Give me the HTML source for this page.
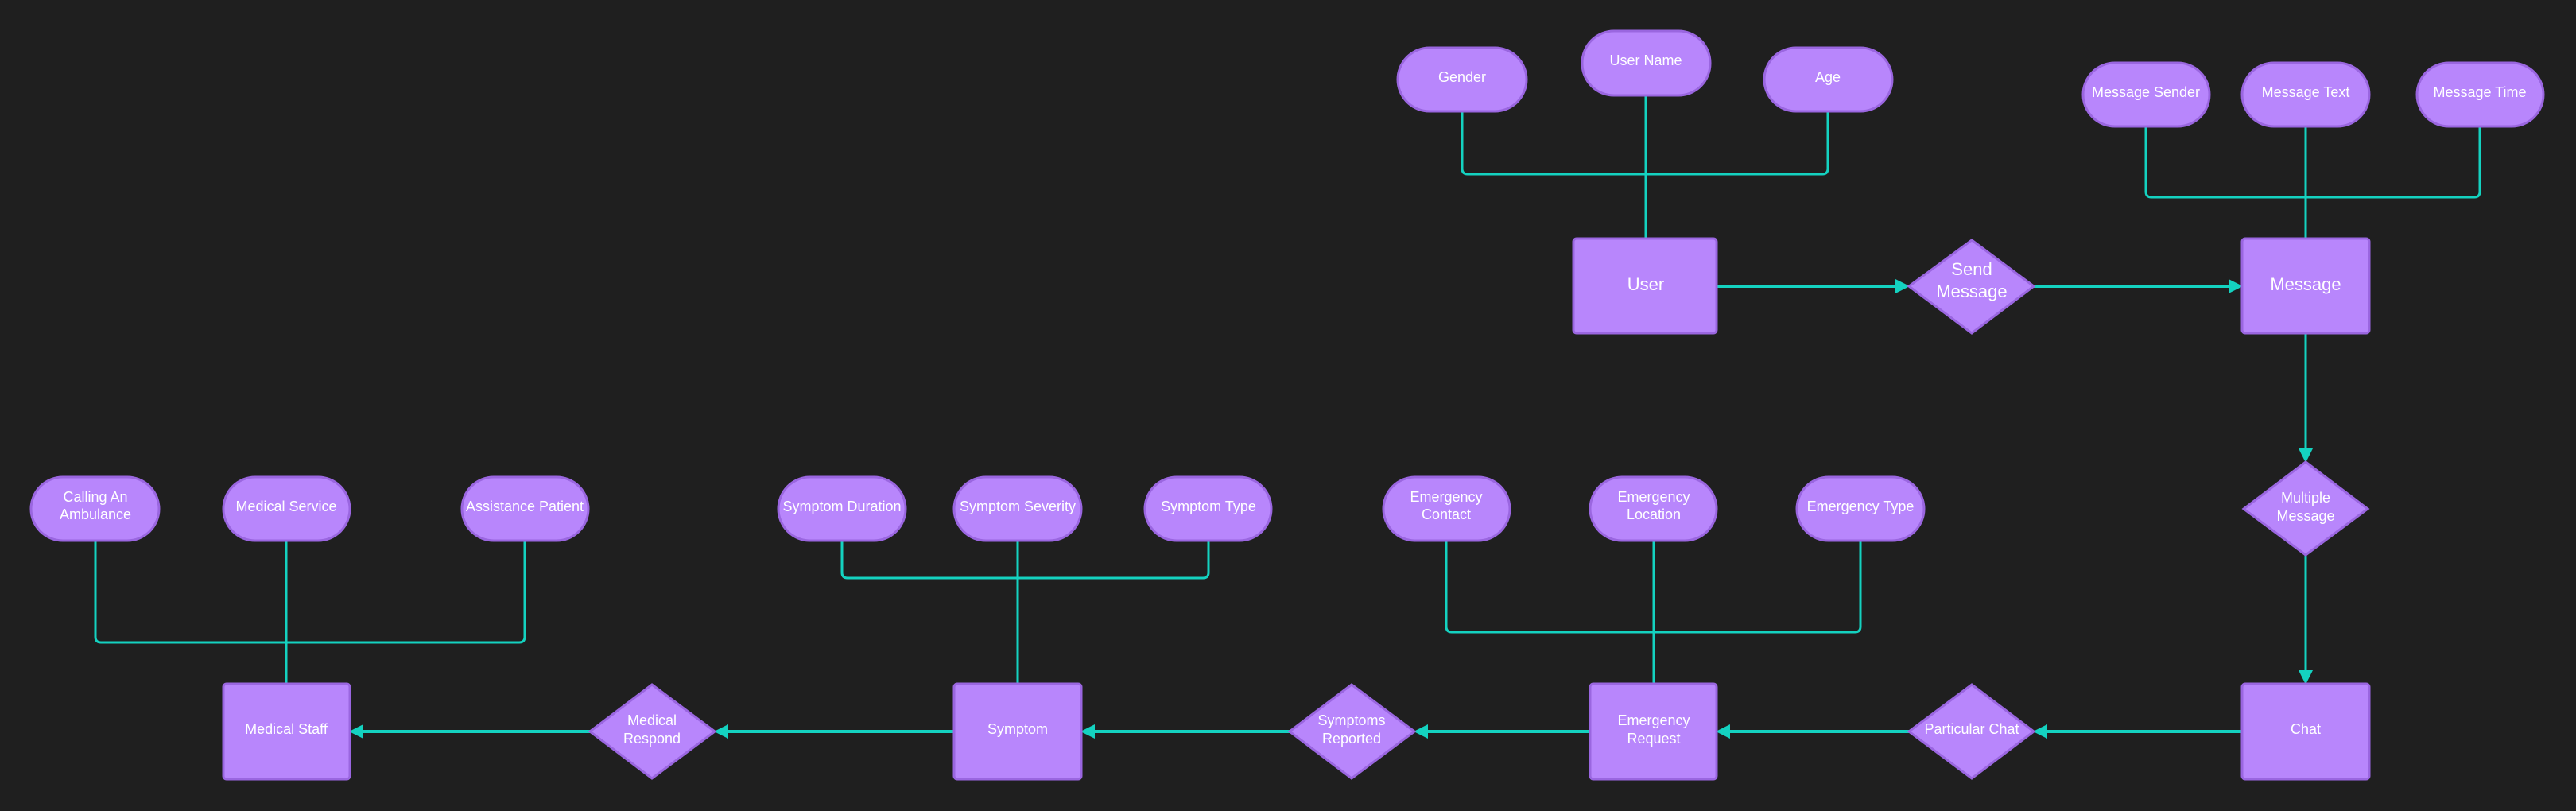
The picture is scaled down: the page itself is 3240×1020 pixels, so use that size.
<!DOCTYPE html>
<html><head><meta charset="utf-8"><style>
html,body{margin:0;padding:0;background:#1f1f1f;}
svg{display:block;}
text{font-family:"Liberation Sans",sans-serif;fill:#fff;text-anchor:middle;dominant-baseline:middle;}
.n{fill:#b886fc;stroke:#9a66e0;stroke-width:3;}
.l{fill:none;stroke:#14d2c0;stroke-width:3;}
.b{fill:none;stroke:#14d2c0;stroke-width:4;}
.a{fill:#14d2c0;}
</style></head><body>
<svg width="3240" height="1020" viewBox="0 0 3240 1020" xmlns="http://www.w3.org/2000/svg">
<rect width="3240" height="1020" fill="#1f1f1f"/>
<!-- connectors top -->
<path class="l" d="M1839 140 V212 Q1839 219 1846 219 H2292 Q2299 219 2299 212 V140"/>
<path class="l" d="M2070 120 V300"/>
<path class="l" d="M2699 159 V241 Q2699 248 2706 248 H3112 Q3119 248 3119 241 V159"/>
<path class="l" d="M2900 159 V300"/>
<!-- bottom attribute connectors -->
<path class="l" d="M1819 680 V788 Q1819 795 1826 795 H2333 Q2340 795 2340 788 V680"/>
<path class="l" d="M2080 680 V860"/>
<path class="l" d="M1059 680 V720 Q1059 727 1066 727 H1513 Q1520 727 1520 720 V680"/>
<path class="l" d="M1280 680 V860"/>
<path class="l" d="M120 680 V801 Q120 808 127 808 H653 Q660 808 660 801 V680"/>
<path class="l" d="M360 680 V860"/>
<!-- flow arrows -->
<path class="b" d="M2159 360 H2386"/><polygon class="a" points="2402,360 2384,351 2384,369"/>
<path class="b" d="M2558 360 H2805"/><polygon class="a" points="2821,360 2803,351 2803,369"/>
<path class="l" d="M2900 419 V566"/><polygon class="a" points="2900,582 2891,564 2909,564"/>
<path class="l" d="M2900 698 V845"/><polygon class="a" points="2900,861 2891,843 2909,843"/>
<path class="b" d="M2820 920 H2573"/><polygon class="a" points="2557,920 2575,911 2575,929"/>
<path class="b" d="M2401 920 H2174"/><polygon class="a" points="2158,920 2176,911 2176,929"/>
<path class="b" d="M2000 920 H1794"/><polygon class="a" points="1778,920 1796,911 1796,929"/>
<path class="b" d="M1622 920 H1375"/><polygon class="a" points="1359,920 1377,911 1377,929"/>
<path class="b" d="M1200 920 H914"/><polygon class="a" points="898,920 916,911 916,929"/>
<path class="b" d="M742 920 H455"/><polygon class="a" points="439,920 457,911 457,929"/>
<!-- pills top -->
<rect class="n" x="1758" y="60" width="162" height="80" rx="40"/><text x="1839" y="98" font-size="18">Gender</text>
<rect class="n" x="1990" y="39" width="161" height="81" rx="40"/><text x="2070" y="77" font-size="18">User Name</text>
<rect class="n" x="2219" y="60" width="161" height="80" rx="40"/><text x="2299" y="98" font-size="18">Age</text>
<rect class="n" x="2620" y="79" width="159" height="80" rx="40"/><text x="2699" y="117" font-size="18">Message Sender</text>
<rect class="n" x="2820" y="79" width="160" height="80" rx="40"/><text x="2900" y="117" font-size="18">Message Text</text>
<rect class="n" x="3040" y="79" width="159" height="80" rx="40"/><text x="3119" y="117" font-size="18">Message Time</text>
<!-- top row nodes -->
<rect class="n" x="1979" y="300" width="180" height="119" rx="4"/><text x="2070" y="359" font-size="22">User</text>
<polygon class="n" points="2480,302 2558,360 2480,419 2401,360"/><text x="2480" y="340" font-size="22">Send</text><text x="2480" y="368" font-size="22">Message</text>
<rect class="n" x="2820" y="300" width="160" height="119" rx="4"/><text x="2900" y="359" font-size="22">Message</text>
<polygon class="n" points="2900,581 2978,640 2900,698 2822,640"/><text x="2900" y="627" font-size="18">Multiple</text><text x="2900" y="650" font-size="18">Message</text>
<!-- bottom attribute pills -->
<rect class="n" x="39" y="600" width="161" height="80" rx="40"/><text x="120" y="626" font-size="18">Calling An</text><text x="120" y="648" font-size="18">Ambulance</text>
<rect class="n" x="281" y="600" width="159" height="80" rx="40"/><text x="360" y="638" font-size="18">Medical Service</text>
<rect class="n" x="581" y="600" width="159" height="80" rx="40"/><text x="660" y="638" font-size="18">Assistance Patient</text>
<rect class="n" x="979" y="600" width="160" height="80" rx="40"/><text x="1059" y="638" font-size="18">Symptom Duration</text>
<rect class="n" x="1200" y="600" width="160" height="80" rx="40"/><text x="1280" y="638" font-size="18">Symptom Severity</text>
<rect class="n" x="1440" y="600" width="159" height="80" rx="40"/><text x="1520" y="638" font-size="18">Symptom Type</text>
<rect class="n" x="1740" y="600" width="159" height="80" rx="40"/><text x="1819" y="626" font-size="18">Emergency</text><text x="1819" y="648" font-size="18">Contact</text>
<rect class="n" x="2000" y="600" width="159" height="80" rx="40"/><text x="2080" y="626" font-size="18">Emergency</text><text x="2080" y="648" font-size="18">Location</text>
<rect class="n" x="2260" y="600" width="160" height="80" rx="40"/><text x="2340" y="638" font-size="18">Emergency Type</text>
<!-- bottom row nodes -->
<rect class="n" x="2820" y="860" width="160" height="120" rx="4"/><text x="2900" y="918" font-size="18">Chat</text>
<polygon class="n" points="2480,861 2558,920 2480,979 2401,920"/><text x="2480" y="918" font-size="18">Particular Chat</text>
<rect class="n" x="2000" y="860" width="159" height="120" rx="4"/><text x="2080" y="907" font-size="18">Emergency</text><text x="2080" y="930" font-size="18">Request</text>
<polygon class="n" points="1700,861 1779,920 1700,979 1622,920"/><text x="1700" y="907" font-size="18">Symptoms</text><text x="1700" y="930" font-size="18">Reported</text>
<rect class="n" x="1200" y="860" width="160" height="120" rx="4"/><text x="1280" y="918" font-size="18">Symptom</text>
<polygon class="n" points="820,861 899,920 820,979 742,920"/><text x="820" y="907" font-size="18">Medical</text><text x="820" y="930" font-size="18">Respond</text>
<rect class="n" x="281" y="860" width="159" height="120" rx="4"/><text x="360" y="918" font-size="18">Medical Staff</text>
</svg>
</body></html>
